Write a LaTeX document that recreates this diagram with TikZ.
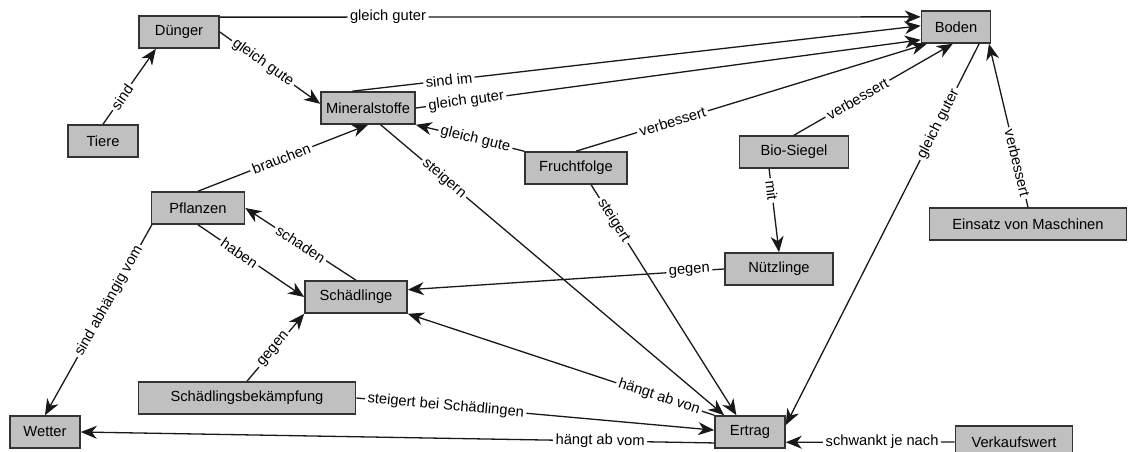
\documentclass[tikz,border=0pt]{standalone}
\usepackage{fontspec}
\setmainfont{Liberation Sans}
\usetikzlibrary{arrows.meta}
\definecolor{boxgray}{RGB}{192,192,192}

\begin{document}
\begin{tikzpicture}[x=1pt,y=-1pt,
	box/.style={draw=black!80,line width=1.6pt,fill=boxgray,minimum height=32pt,inner sep=0pt,font=\fontsize{14.7}{17}\selectfont},
	rel/.style={-{Stealth[length=16pt,width=13pt,inset=5pt]},line width=1.3pt,draw=black!90},
	lbl/.style={fill=white,inner sep=2.5pt,sloped,font=\fontsize{14.7}{17}\selectfont}]
	\useasboundingbox (0,0) rectangle (1128,452);
	\node[box,minimum width=80pt] (duenger) at (179,32) {Dünger};
	\node[box,minimum width=70pt] (tiere) at (103,141) {Tiere};
	\node[box,minimum width=94pt] (mineral) at (368,108) {Mineralstoffe};
	\node[box,minimum width=69pt] (boden) at (956,27) {Boden};
	\node[box,minimum width=102pt] (frucht) at (576,168) {Fruchtfolge};
	\node[box,minimum width=109pt] (bio) at (794,152) {Bio-Siegel};
	\node[box,minimum width=197pt] (einsatz) at (1028,224) {Einsatz von Maschinen};
	\node[box,minimum width=93pt] (pflanzen) at (198,208) {Pflanzen};
	\node[box,minimum width=102pt] (schaedlinge) at (356,297) {Schädlinge};
	\node[box,minimum width=108pt] (nuetzlinge) at (779,269) {Nützlinge};
	\node[box,minimum width=217pt] (bekaempfung) at (247,398) {Schädlingsbekämpfung};
	\node[box,minimum width=70pt] (wetter) at (45,432) {Wetter};
	\node[box,minimum width=70pt] (ertrag) at (750,432) {Ertrag};
	\node[box,minimum width=117pt] (verkauf) at (1014,442) {Verkaufswert};
	\draw[rel] (tiere.north) -- node[lbl,pos=0.36] {sind} (duenger.216);
	\draw[rel] (duenger.east) -- node[lbl,pos=0.43] {gleich gute} (mineral.175);
	\draw[rel] (duenger.20) -- node[lbl,pos=0.24] {gleich guter} (boden.164);
	\draw[rel] (mineral.133) -- node[lbl,pos=0.17] {sind im} (boden.178);
	\draw[rel] (mineral.east) -- node[lbl,pos=0.1] {gleich guter} (boden.200);
	\draw[rel] (frucht.north) -- node[lbl,pos=0.275] {verbessert} (boden.210);
	\draw[rel] (frucht.north west) -- node[lbl,pos=0.45] {gleich gute} (mineral.south east);
	\draw[rel] (bio.north) -- node[lbl,pos=0.4] {verbessert} (boden.259);
	\draw[rel] (bio.214) -- node[lbl,pos=0.26] {mit} (nuetzlinge.north);
	\draw[rel] (einsatz.north) -- node[lbl,pos=0.27] {verbessert} (boden.333);
	\draw[rel] (boden.324) -- node[lbl,pos=0.21] {gleich guter} (ertrag.11);
	\draw[rel] (pflanzen.north) -- node[lbl,pos=0.49] {brauchen} (mineral.south);
	\draw[rel] (schaedlinge.north) -- node[lbl,pos=0.5] {schaden} (pflanzen.east);
	\draw[rel] (pflanzen.south) -- node[lbl,pos=0.39] {haben} (schaedlinge.west);
	\draw[rel] (pflanzen.200) -- node[lbl,pos=0.4] {sind abhängig vom} (wetter.north);
	\draw[rel] (bekaempfung.north) -- node[lbl,pos=0.47] {gegen} (schaedlinge.south west);
	\draw[rel] (nuetzlinge.west) -- node[lbl,pos=0.11] {gegen} (schaedlinge.8);
	\draw[rel] (ertrag.north west) -- node[lbl,pos=0.18] {hängt ab von} (schaedlinge.south east);
	\draw[rel] (bekaempfung.east) -- node[lbl,pos=0.25] {steigert bei Schädlingen} (ertrag.177);
	\draw[rel] (ertrag.197) -- node[lbl,pos=0.18] {hängt ab vom} (wetter.east);
	\draw[rel] (verkauf.west) -- node[lbl,pos=0.43] {schwankt je nach} (ertrag.344);
	\draw[rel] (mineral.307) -- node[lbl,pos=0.185] {steigern} (ertrag.147);
	\draw[rel] (frucht.312) -- node[lbl,pos=0.155] {steigert} (ertrag.129);
\end{tikzpicture}
\end{document}
